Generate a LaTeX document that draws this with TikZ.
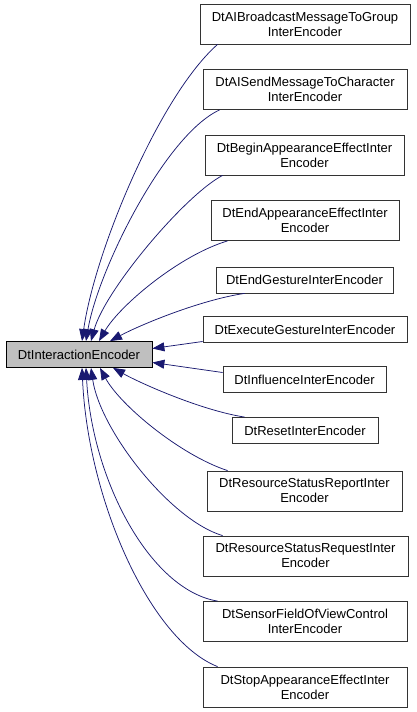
\documentclass[tikz,border=0pt]{standalone}
\usepackage{fontspec}
\setmainfont{Liberation Sans}
\usetikzlibrary{arrows.meta}
\definecolor{midnight}{HTML}{191970}
\definecolor{basegray}{HTML}{BFBFBF}

\tikzset{
    cls/.style={draw=black!80, fill=white, line width=0.8pt, align=center,
        inner sep=0pt, minimum height=40pt, font=\fontsize{13}{15}\selectfont},
    single/.style={cls, minimum height=26pt},
    base/.style={single, fill=basegray, draw=black},
    edge/.style={<-, draw=midnight, line width=0.75pt},
    >={Triangle[length=12pt,width=9pt]}
}

\begin{document}
\begin{tikzpicture}[x=1pt,y=-1pt]
    \useasboundingbox (0,0) rectangle (416,712);

    % Base class
    \node[base, minimum width=146pt] (dtie) at (79,354.5) {DtInteractionEncoder};

    % Derived classes
    \node[cls, minimum width=210pt] (c1) at (305,24) {DtAIBroadcastMessageToGroup\\InterEncoder};
    \node[cls, minimum width=204pt] (c2) at (305,89.5) {DtAISendMessageToCharacter\\InterEncoder};
    \node[cls, minimum width=199pt] (c3) at (304.5,155) {DtBeginAppearanceEffectInter\\Encoder};
    \node[cls, minimum width=188pt] (c4) at (305,220.5) {DtEndAppearanceEffectInter\\Encoder};
    \node[single, minimum width=177pt] (c5) at (304.5,280) {DtEndGestureInterEncoder};
    \node[single, minimum width=204pt] (c6) at (305,329.5) {DtExecuteGestureInterEncoder};
    \node[single, minimum width=163pt] (c7) at (304.5,379.5) {DtInfluenceInterEncoder};
    \node[single, minimum width=146pt] (c8) at (305,430.5) {DtResetInterEncoder};
    \node[cls, minimum width=195pt] (c9) at (304.5,491) {DtResourceStatusReportInter\\Encoder};
    \node[cls, minimum width=205pt] (c10) at (305.5,556) {DtResourceStatusRequestInter\\Encoder};
    \node[cls, minimum width=204pt] (c11) at (305,621.5) {DtSensorFieldOfViewControl\\InterEncoder};
    \node[cls, minimum width=204pt] (c12) at (305,687) {DtStopAppearanceEffectInter\\Encoder};

    % Inheritance edges, upper half
    \draw[edge] ([xshift=3pt]dtie.north) .. controls (95,250) and (160,95) .. ([xshift=18pt]c1.south west);
    \draw[edge] ([xshift=7pt]dtie.north) .. controls (98,270) and (165,135) .. ([xshift=17pt]c2.south west);
    \draw[edge] ([xshift=12pt]dtie.north) .. controls (105,290) and (185,195) .. ([xshift=18pt]c3.south west);
    \draw[edge] ([xshift=20pt]dtie.north) .. controls (120,305) and (180,255) .. ([xshift=17pt]c4.south west);
    \draw[edge] ([xshift=31pt]dtie.north) .. controls (140,325) and (200,300) .. ([xshift=29pt]c5.south west);

    % Straight edges to the right
    \draw[edge] ([yshift=6pt]dtie.east) -- ([yshift=-12pt]c6.west);
    \draw[edge] ([yshift=-8pt]dtie.east) -- ([yshift=7pt]c7.west);

    % Inheritance edges, lower half
    \draw[edge] ([xshift=34pt]dtie.south) .. controls (140,383) and (200,410) .. ([xshift=13pt]c8.north west);
    \draw[edge] ([xshift=21pt]dtie.south) .. controls (120,405) and (180,455) .. ([xshift=21pt]c9.north west);
    \draw[edge] ([xshift=12pt]dtie.south) .. controls (100,430) and (170,520) .. ([xshift=20pt]c10.north west);
    \draw[edge] ([xshift=7pt]dtie.south) .. controls (92,480) and (150,590) .. ([xshift=15pt]c11.north west);
    \draw[edge] ([xshift=3pt]dtie.south) .. controls (88,500) and (150,640) .. ([xshift=15pt]c12.north west);
\end{tikzpicture}
\end{document}
